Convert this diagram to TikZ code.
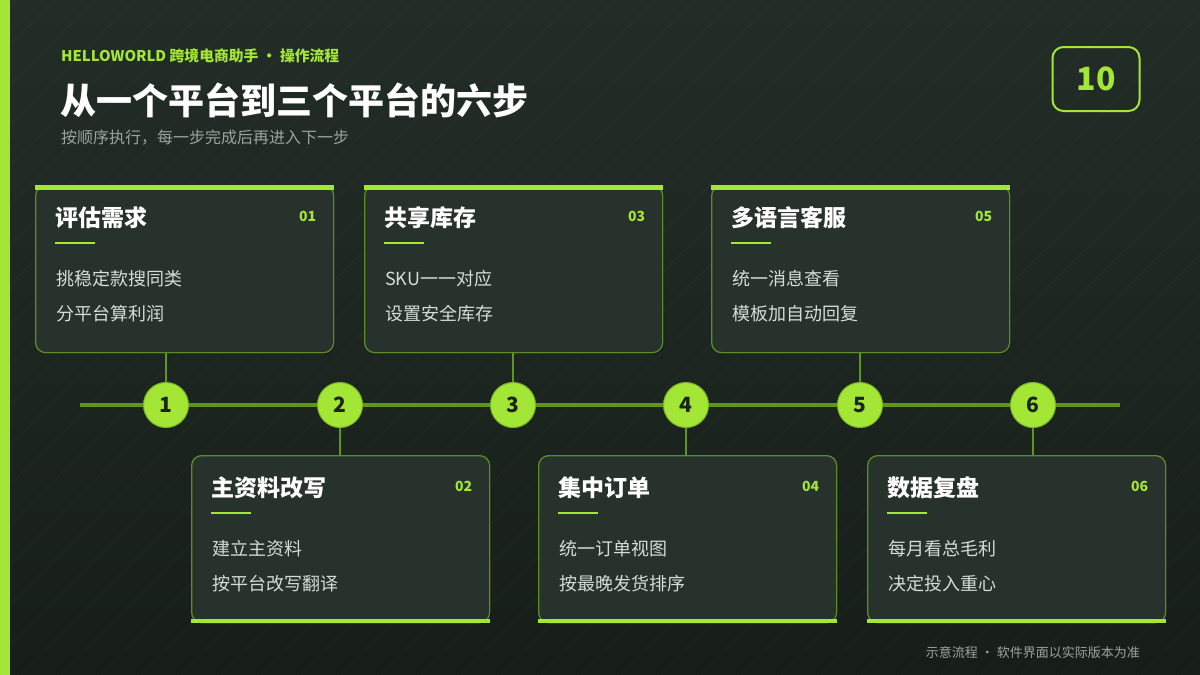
\documentclass[tikz,border=0pt]{standalone}
\usepackage{fontspec}
\setmainfont{Noto Sans CJK SC}
\usetikzlibrary{calc}
\definecolor{lime}{HTML}{A3E635}
\definecolor{tline}{HTML}{5E961E}
\definecolor{cardfill}{HTML}{27322C}
\definecolor{cardborder}{HTML}{5C8C26}
\definecolor{bgtop}{HTML}{232D27}
\definecolor{bgbot}{HTML}{171E19}
\definecolor{subgray}{HTML}{9CA4A0}
\definecolor{itemgray}{HTML}{D6DCD8}
\definecolor{dotnum}{HTML}{1A2419}
\newcommand{\fs}[1]{\fontsize{#1}{#1}\selectfont}
\tikzset{
  card/.style={draw=cardborder, line width=1.3pt, fill=cardfill, rounded corners=10pt,
    minimum width=298pt, minimum height=167pt, inner sep=0pt},
  cardtitle/.style={text=white, font=\bfseries\fs{23}, inner sep=0pt},
  cardnum/.style={text=lime, font=\bfseries\fs{14}, inner sep=0pt},
  carditem/.style={text=itemgray, font=\fs{18}, inner sep=0pt},
  underl/.style={draw=lime, line width=2.5pt},
  conn/.style={draw=tline, line width=2pt},
  tl/.style={draw=tline, line width=4.5pt},
  stepdot/.style={circle, fill=lime, draw=tline!60!lime, line width=1pt, minimum size=45pt,
    inner sep=0pt, text=dotnum, font=\bfseries\fs{21}},
}
\newcommand{\stepcard}[7]{%
  \fill[black, opacity=0.3, rounded corners=10pt] (#2+2,#3+2) rectangle ++(298,167);
  \node[card, anchor=north west] (#1) at (#2,#3) {};
  \node[cardtitle, anchor=west] (#1t) at ($(#1.north west)+(20,33)$) {#5};
  \node[cardnum, anchor=east] (#1n) at ($(#1.north east)+(-18,31)$) {#4};
  \draw[underl] ($(#1.north west)+(20,58)$) -- ++(40,0);
  \node[carditem, anchor=west] (#1a) at ($(#1.north west)+(21,94)$) {#6};
  \node[carditem, anchor=west] (#1b) at ($(#1.north west)+(21,129)$) {#7};
}
\begin{document}
\begin{tikzpicture}[x=1pt,y=-1pt]
\useasboundingbox (0,0) rectangle (1200,675);
\shade[top color=bgtop, bottom color=bgbot] (0,0) rectangle (1200,675);
\begin{scope}
  \clip (0,0) rectangle (1200,675);
  \foreach \i in {-700,-660,...,1220}
    \draw[white, opacity=0.035, line width=1pt] (\i,675) -- ({\i+675},0);
\end{scope}
\fill[lime] (0,0) rectangle (9.5,675);
% header
\node[anchor=west, inner sep=0pt, text=lime, font=\bfseries\fs{14.8}] (hdr) at (61,56) {HELLOWORLD 跨境电商助手 · 操作流程};
\node[anchor=west, inner sep=0pt, text=white, font=\bfseries\fs{36}] (title) at (60,100) {从一个平台到三个平台的六步};
\node[anchor=west, inner sep=0pt, text=subgray, font=\fs{16}] (sub) at (61,138) {按顺序执行，每一步完成后再进入下一步};
\node[draw=lime, line width=2pt, rounded corners=11pt, minimum width=87pt, minimum height=64pt,
  text=lime, font=\bfseries\fs{32}, inner sep=0pt] (page) at (1096,79) {10};
% timeline
\coordinate (tlA) at (80,405);
\coordinate (tlB) at (1120,405);
\draw[tl] (tlA) -- (tlB);
% cards
\stepcard{c1}{35}{185}{01}{评估需求}{挑稳定款搜同类}{分平台算利润}
\stepcard{c3}{364}{185}{03}{共享库存}{SKU一一对应}{设置安全库存}
\stepcard{c5}{711}{185}{05}{多语言客服}{统一消息查看}{模板加自动回复}
\stepcard{c2}{191}{455}{02}{主资料改写}{建立主资料}{按平台改写翻译}
\stepcard{c4}{538}{455}{04}{集中订单}{统一订单视图}{按最晚发货排序}
\stepcard{c6}{867}{455}{06}{数据复盘}{每月看总毛利}{决定投入重心}
\foreach \c in {c1,c3,c5} \fill[lime] (\c.north west) rectangle ($(\c.north east)+(0,4.5)$);
\foreach \c in {c2,c4,c6} \fill[lime] ($(\c.south west)+(0,-4.5)$) rectangle (\c.south east);
% step dots
\node[stepdot] (n1) at (166,405) {1};
\node[stepdot] (n2) at (340,405) {2};
\node[stepdot] (n3) at (513,405) {3};
\node[stepdot] (n4) at (686,405) {4};
\node[stepdot] (n5) at (860,405) {5};
\node[stepdot] (n6) at (1033,405) {6};
% connectors
\draw[conn] (c1.south -| n1) -- (n1.north);
\draw[conn] (c3.south -| n3) -- (n3.north);
\draw[conn] (c5.south -| n5) -- (n5.north);
\draw[conn] (n2.south) -- (c2.north -| n2);
\draw[conn] (n4.south) -- (c4.north -| n4);
\draw[conn] (n6.south) -- (c6.north -| n6);
% footer
\node[anchor=east, inner sep=0pt, text=subgray, font=\fs{13}] (foot) at (1140,653) {示意流程 · 软件界面以实际版本为准};
\end{tikzpicture}
\end{document}
